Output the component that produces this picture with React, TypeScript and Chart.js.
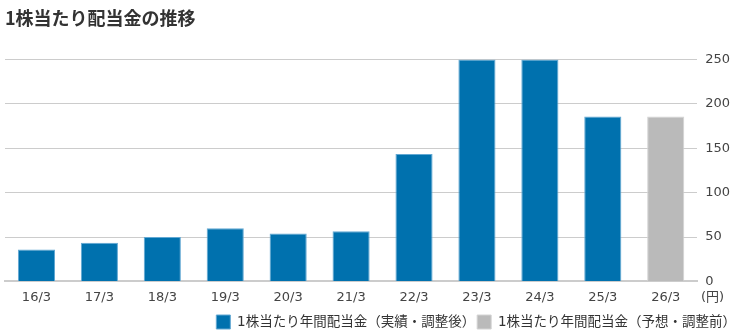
import React, { useEffect, useRef } from "react";
import { Chart, registerables } from "chart.js";

Chart.register(...registerables);

const categories = ["16/3", "17/3", "18/3", "19/3", "20/3", "21/3", "22/3", "23/3", "24/3", "25/3", "26/3"];
const actualValues = [36, 43.5, 50, 60, 54, 56.5, 143.5, 250, 250, 186, null];
const forecastValues = [null, null, null, null, null, null, null, null, null, null, 186];
const yTicks = [0, 50, 100, 150, 200, 250];
const titleText = "1株当たり配当金の推移";
const actualLabel = "1株当たり年間配当金（実績・調整後）";
const forecastLabel = "1株当たり年間配当金（予想・調整前）";
const unitLabel = "(円)";

const FONT = "'DejaVu Sans', 'Noto Sans CJK JP', sans-serif";
const TITLE_FONT = "'Noto Sans CJK JP', sans-serif";

export default function App() {
  const ref = useRef<HTMLCanvasElement | null>(null);
  useEffect(() => {
    document.body.style.margin = "0";
    const chart = new Chart(ref.current!, {
      type: "bar",
      data: {
        labels: categories,
        datasets: [
          {
            label: actualLabel,
            data: actualValues,
            backgroundColor: "#0071ae",
            borderColor: "#62a8d3",
            borderWidth: 1,
            grouped: false,
            categoryPercentage: 1,
            barPercentage: 0.59,
          },
          {
            label: forecastLabel,
            data: forecastValues,
            backgroundColor: "#bababa",
            borderColor: "#d4d4d4",
            borderWidth: 1,
            grouped: false,
            categoryPercentage: 1,
            barPercentage: 0.59,
          },
        ],
      },
      options: {
        animation: false,
        responsive: false,
        maintainAspectRatio: false,
        layout: { padding: { left: 5, right: 2, top: 0, bottom: -6 } },
        plugins: {
          title: {
            display: true,
            text: titleText,
            align: "start",
            color: "#333",
            font: { family: TITLE_FONT, size: 18, weight: "bold" },
            padding: { top: 7, bottom: 31 },
          },
          legend: {
            position: "bottom",
            align: "end",
            labels: {
              color: "#333",
              font: { family: FONT, size: 13.5 },
              boxWidth: 14,
              boxHeight: 14,
              padding: 2,
            },
          },
          tooltip: { enabled: false },
        },
        scales: {
          x: {
            grid: { display: false, drawTicks: false },
            border: { display: true, color: "#cccccc", width: 2 },
            ticks: {
              color: "#444",
              font: { family: FONT, size: 13 },
              padding: 8,
              maxRotation: 0,
            },
          },
          y: {
            position: "right",
            min: 0,
            max: 250,
            afterBuildTicks: (axis: any) => {
              axis.ticks = yTicks.map((v) => ({ value: v }));
            },
            grid: { color: "#cccccc", drawTicks: false },
            border: { display: false },
            ticks: {
              color: "#444",
              font: { family: FONT, size: 13 },
              padding: 8,
            },
          },
        },
      },
    });
    return () => chart.destroy();
  }, []);
  return (
    <div style={{ position: "relative", width: 740, height: 333 }}>
      <canvas ref={ref} width={740} height={333} style={{ display: "block" }} />
      <span
        style={{
          position: "absolute",
          left: 701,
          top: 288,
          fontFamily: FONT,
          fontSize: 13,
          color: "#444",
          lineHeight: "18px",
        }}
      >
        {unitLabel}
      </span>
    </div>
  );
}
